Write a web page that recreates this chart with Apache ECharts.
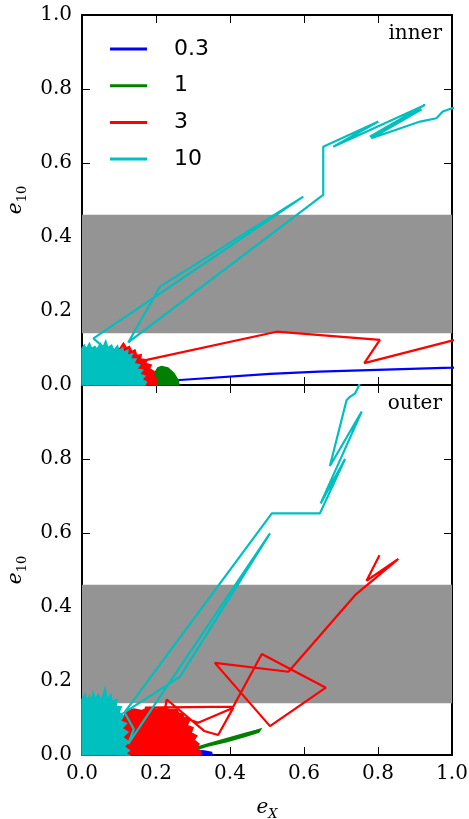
<!DOCTYPE html>
<html>
<head>
<meta charset="utf-8">
<script src="https://cdn.jsdelivr.net/npm/echarts@6/dist/echarts.min.js"></script>
<style>
  html, body { margin: 0; padding: 0; background: #fff; }
  #chart { width: 469px; height: 819px; }
</style>
</head>
<body>
<div id="chart"></div>
<script>
// legend names
var names = ['0.3', '1', '3', '10'];
var colors = ['#0000ff', '#008000', '#ff0000', '#00bfbf'];
var ticks = [0, 0.2, 0.4, 0.6, 0.8, 1.0];

// gray band (e10 range)
var bandX = [0, 1];
var bandY = [0.14, 0.46];

/* ---- inner panel ---- */
var blueTopPath = [[0.20, 0.002], [0.215, 0.005], [0.24, 0.01], [0.265, 0.0135], [0.508, 0.03], [0.64, 0.036], [1.0, 0.047], [1.05, 0.049]];
var greenTopCluster = [[0.192, 0], [0.196, 0.032], [0.205, 0.046], [0.215, 0.05], [0.232, 0.046], [0.248, 0.032], [0.26, 0.012], [0.262, 0]];
var redTopCluster = [[0.10, 0], [0.10, 0.095], [0.112, 0.113], [0.12, 0.1], [0.128, 0.104], [0.135, 0.09], [0.143, 0.095], [0.148, 0.08], [0.16, 0.082], [0.158, 0.07], [0.175, 0.068], [0.172, 0.058], [0.187, 0.054], [0.182, 0.044], [0.197, 0.035], [0.192, 0.025], [0.2, 0.018], [0.203, 0]];
var redTopPath = [[0.16, 0.06], [0.175, 0.068], [0.526, 0.144], [0.805, 0.122], [0.763, 0.059], [1.0, 0.12], [1.05, 0.13]];
var cyanTopCluster = [[0, 0], [0, 0.099], [0.006, 0.108], [0.012, 0.097], [0.02, 0.113], [0.026, 0.099], [0.035, 0.104], [0.04, 0.096], [0.05, 0.112], [0.056, 0.1], [0.064, 0.119], [0.07, 0.101], [0.08, 0.108], [0.086, 0.094], [0.096, 0.106], [0.1, 0.092], [0.11, 0.1], [0.112, 0.088], [0.124, 0.094], [0.122, 0.08], [0.136, 0.084], [0.13, 0.07], [0.146, 0.07], [0.14, 0.058], [0.156, 0.054], [0.148, 0.044], [0.164, 0.04], [0.155, 0.03], [0.17, 0.024], [0.162, 0.015], [0.174, 0.008], [0.17, 0]];
var cyanTopPath = [[0.06, 0.1], [0.031, 0.126], [0.598, 0.509], [0.211, 0.266], [0.125, 0.115], [0.652, 0.514], [0.652, 0.644], [0.801, 0.712], [0.679, 0.644], [0.927, 0.757], [0.778, 0.671], [0.918, 0.745], [0.782, 0.667], [0.914, 0.712], [0.958, 0.721], [0.975, 0.739], [1.0, 0.748], [1.03, 0.752]];

/* ---- outer panel ---- */
var blueBottomCluster = [[0.24, 0], [0.25, 0.007], [0.27, 0.011], [0.3, 0.013], [0.33, 0.011], [0.35, 0.007], [0.352, 0]];
var greenBottomPath = [[0.17, 0.002], [0.2, 0.004], [0.23, 0.012], [0.26, 0.014], [0.3, 0.018]];
var greenBottomCluster = [[0.295, 0.016], [0.34, 0.03], [0.39, 0.044], [0.44, 0.058], [0.47, 0.066], [0.483, 0.07], [0.478, 0.062], [0.44, 0.05], [0.39, 0.036], [0.34, 0.024], [0.3, 0.012]];
var redBottomCluster = [[0.1, 0], [0.1, 0.1], [0.115, 0.106], [0.12, 0.118], [0.14, 0.124], [0.16, 0.12], [0.18, 0.127], [0.2, 0.123], [0.22, 0.128], [0.24, 0.122], [0.255, 0.124], [0.262, 0.112], [0.275, 0.11], [0.272, 0.098], [0.29, 0.092], [0.284, 0.08], [0.3, 0.074], [0.295, 0.06], [0.31, 0.052], [0.303, 0.04], [0.316, 0.03], [0.31, 0.018], [0.32, 0.01], [0.32, 0]];
var redBottomPath = [[0.22, 0.1], [0.229, 0.15], [0.33, 0.065], [0.368, 0.054], [0.409, 0.128], [0.314, 0.087], [0.25, 0.11], [0.17, 0.128], [0.409, 0.131], [0.486, 0.273], [0.659, 0.182], [0.508, 0.078], [0.359, 0.249], [0.558, 0.225], [0.738, 0.432], [0.855, 0.53], [0.769, 0.471], [0.804, 0.54]];
var cyanBottomCluster = [[0, 0], [0, 0.15], [0.008, 0.165], [0.013, 0.145], [0.02, 0.16], [0.024, 0.14], [0.03, 0.17], [0.036, 0.15], [0.044, 0.163], [0.05, 0.148], [0.058, 0.165], [0.062, 0.18], [0.068, 0.152], [0.078, 0.163], [0.082, 0.143], [0.094, 0.15], [0.092, 0.132], [0.106, 0.13], [0.1, 0.115], [0.112, 0.105], [0.104, 0.092], [0.12, 0.085], [0.108, 0.072], [0.124, 0.062], [0.11, 0.048], [0.126, 0.036], [0.114, 0.022], [0.128, 0.012], [0.118, 0.004], [0.125, 0]];
var cyanBottomPath = [[0.06, 0.08], [0.112, 0.113], [0.265, 0.212], [0.508, 0.599], [0.125, 0.03], [0.14, 0.07], [0.115, 0.115], [0.513, 0.653], [0.643, 0.653], [0.711, 0.8], [0.645, 0.68], [0.756, 0.928], [0.67, 0.781], [0.715, 0.959], [0.724, 0.968], [0.738, 0.977], [0.747, 0.995], [0.76, 1.03]];

var serif = 'DejaVu Serif';
var chart = echarts.init(document.getElementById('chart'));

function xAx(grid, pos, showLabel, name) {
    return {
        type: 'value', gridIndex: grid, position: pos, min: 0, max: 1, interval: 0.2,
        axisLine: { onZero: false, lineStyle: { color: '#000', width: 2 } },
        axisTick: { inside: true, length: 8, lineStyle: { color: '#000', width: 1 } },
        axisLabel: { show: showLabel, color: '#000', fontFamily: serif, fontSize: 20, margin: 9,
            formatter: function (v) { return v.toFixed(1); } },
        splitLine: { show: false },
        name: name || '', nameLocation: 'middle', nameGap: 40,
        nameTextStyle: {
            rich: {
                e: { fontFamily: serif, fontStyle: 'italic', fontSize: 20, color: '#000', lineHeight: 26, verticalAlign: 'middle' },
                s: { fontFamily: serif, fontStyle: 'italic', fontSize: 13, color: '#000', lineHeight: 26, verticalAlign: 'bottom' }
            }
        }
    };
}

function yAx(grid, pos, showLabel, hideMax, name) {
    return {
        type: 'value', gridIndex: grid, position: pos, min: 0, max: 1, interval: 0.2,
        axisLine: { onZero: false, lineStyle: { color: '#000', width: 2 } },
        axisTick: { inside: true, length: 8, lineStyle: { color: '#000', width: 1 } },
        axisLabel: { show: showLabel, color: '#000', fontFamily: serif, fontSize: 20, margin: 10, showMaxLabel: !hideMax,
            formatter: function (v) { return v.toFixed(1); } },
        splitLine: { show: false },
        name: name || '', nameLocation: 'middle', nameGap: 50, nameRotate: 90,
        nameTextStyle: {
            rich: {
                e: { fontFamily: serif, fontStyle: 'italic', fontSize: 20, color: '#000', lineHeight: 26, verticalAlign: 'middle' },
                s: { fontFamily: serif, fontSize: 13, color: '#000', lineHeight: 26, verticalAlign: 'bottom' }
            }
        }
    };
}

function band(ax) {
    return {
        type: 'custom', xAxisIndex: ax, yAxisIndex: ax, silent: true, z: 1,
        data: [[bandX[0], bandY[0]], [bandX[1], bandY[1]]],
        renderItem: function (params, api) {
            if (params.dataIndex !== 0) return;
            var p0 = api.coord([bandX[0], bandY[1]]);
            var p1 = api.coord([bandX[1], bandY[0]]);
            return { type: 'rect', shape: { x: p0[0], y: p0[1], width: p1[0] - p0[0], height: p1[1] - p0[1] },
                style: { fill: '#949494' } };
        }
    };
}

function blob(ax, name, color, pts, z) {
    return {
        type: 'custom', name: name, xAxisIndex: ax, yAxisIndex: ax, z: z, silent: true,
        data: pts,
        renderItem: function (params, api) {
            if (params.dataIndex !== 0) return;
            var points = pts.map(function (p) { return api.coord(p); });
            return { type: 'polygon', shape: { points: points },
                style: { fill: color, stroke: color, lineWidth: 1.5 } };
        }
    };
}

function path(ax, name, color, pts, z) {
    return {
        type: 'line', name: name, xAxisIndex: ax, yAxisIndex: ax, z: z,
        data: pts, symbol: 'none', clip: true, silent: true,
        lineStyle: { color: color, width: 2.2 }, itemStyle: { color: color }
    };
}

var series = [
    band(0), band(2),
    path(0, names[0], colors[0], blueTopPath, 2),
    blob(0, names[1], colors[1], greenTopCluster, 3),
    blob(0, names[2], colors[2], redTopCluster, 4),
    path(0, names[2], colors[2], redTopPath, 4),
    blob(0, names[3], colors[3], cyanTopCluster, 5),
    path(0, names[3], colors[3], cyanTopPath, 5),

    blob(2, names[0], colors[0], blueBottomCluster, 2),
    path(2, names[1], colors[1], greenBottomPath, 3),
    blob(2, names[1], colors[1], greenBottomCluster, 3),
    blob(2, names[2], colors[2], redBottomCluster, 4),
    path(2, names[2], colors[2], redBottomPath, 4),
    blob(2, names[3], colors[3], cyanBottomCluster, 5),
    path(2, names[3], colors[3], cyanBottomPath, 5)
];

var option = {
    animation: false,
    backgroundColor: '#fff',
    grid: [
        { left: 82, top: 15, width: 370, height: 370, outerBoundsMode: 'none', containLabel: false },
        { left: 82, top: 385, width: 370, height: 370, outerBoundsMode: 'none', containLabel: false }
    ],
    xAxis: [
        xAx(0, 'bottom', false), xAx(0, 'top', false),
        xAx(1, 'bottom', true, '{e|e}{s|X}'), xAx(1, 'top', false)
    ],
    yAxis: [
        yAx(0, 'left', true, false, '{e|e}{s|10}'), yAx(0, 'right', false, false),
        yAx(1, 'left', true, true, '{e|e}{s|10}'), yAx(1, 'right', false, false)
    ],
    title: [
        { text: 'inner', right: 22, top: 19, textStyle: { fontFamily: serif, fontWeight: 'normal', fontSize: 20, color: '#000' } },
        { text: 'outer', right: 22, top: 389, textStyle: { fontFamily: serif, fontWeight: 'normal', fontSize: 20, color: '#000' } }
    ],
    legend: {
        orient: 'vertical', left: 105, top: 33, itemWidth: 37, itemHeight: 3, itemGap: 14.7,
        icon: 'rect', selectedMode: false,
        textStyle: { fontFamily: 'DejaVu Sans', fontSize: 22, lineHeight: 22, color: '#000', padding: [0, 0, 0, 22] },
        data: names.map(function (n, i) { return { name: n, itemStyle: { color: colors[i] } }; })
    },
    series: series
};

chart.setOption(option);
</script>
</body>
</html>
